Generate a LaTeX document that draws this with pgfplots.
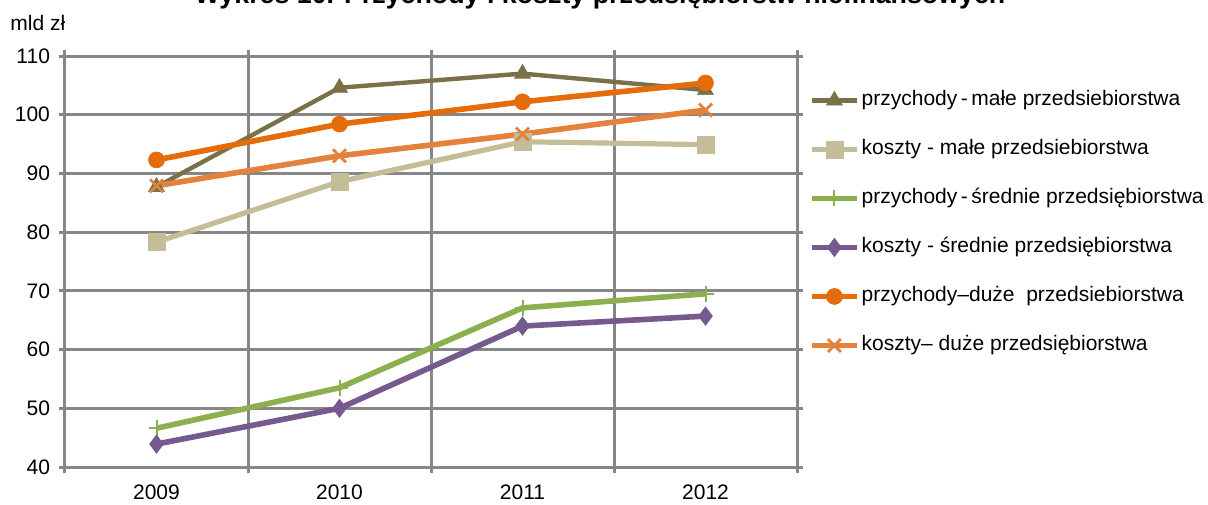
\documentclass[border=0pt]{standalone}
\usepackage{pgfplots}
\pgfplotsset{compat=1.18}
\usepackage{fontspec}
\setmainfont{Liberation Sans}

\definecolor{olive}{HTML}{7A7148}
\definecolor{tan}{HTML}{C4BD97}
\definecolor{sgreen}{HTML}{8CB04D}
\definecolor{spurple}{HTML}{76598F}
\definecolor{dorange}{HTML}{E46C0A}
\definecolor{lorange}{HTML}{E3823D}
\definecolor{gridgray}{HTML}{878787}
\definecolor{sblue}{HTML}{4F81BD}

\begin{document}
\begin{tikzpicture}
\begin{axis}[
    at={(0,0)}, anchor=south west,
    scale only axis,
    width=366pt, height=205.5pt,
    xmin=0.5, xmax=4.5,
    ymin=40, ymax=110,
    xtick={0.5,1.5,2.5,3.5,4.5},
    xticklabels={},
    extra x ticks={1,2,3,4},
    extra x tick labels={2009,2010,2011,2012},
    extra x tick style={grid=none, major tick length=0pt},
    ytick={40,50,...,110},
    grid=major,
    grid style={line width=1.5pt, gridgray},
    axis line style={line width=1.5pt, gridgray},
    tick style={line width=1.5pt, gridgray},
    tick align=outside,
    major tick length=3pt,
    font=\fontsize{10.5}{12}\selectfont,
    /pgf/number format/assume math mode=true,
    xticklabel style={yshift=-5.5pt},
    yticklabel style={xshift=-1pt},
    legend style={draw=none, fill=none, inner sep=0pt,
        at={(1.016,0.922)}, anchor=north west,
        font=\fontsize{10.5}{12}\selectfont,
        nodes={text height=7.5pt, text depth=2.5pt, inner sep=1pt, anchor=west},
        row sep=12.5pt, column sep=0pt},
    legend cell align=left,
    legend image code/.code={\draw[mark repeat=2,mark phase=2,#1] plot coordinates {(0pt,0pt) (11.25pt,0pt) (22.5pt,0pt)};},
]
\addplot[sblue, only marks, mark=triangle*, mark size=4pt, forget plot] coordinates {(1,87.6)};
\addplot[olive, line width=2.2pt, mark=triangle*, mark size=4.6pt, mark options={line width=0.3pt}] coordinates {
    (1,87.7) (2,104.6) (3,107.0) (4,104.2)};
\addlegendentry{przychody\,-\,małe przedsiebiorstwa}
\addplot[tan, line width=2.6pt, mark=square*, mark size=4.2pt, mark options={line width=0.3pt}] coordinates {
    (1,78.3) (2,88.6) (3,95.4) (4,94.9)};
\addlegendentry{koszty - małe przedsiebiorstwa}
\addplot[sgreen, line width=2.8pt, mark=+, mark size=4pt, mark options={line width=1pt}] coordinates {
    (1,46.6) (2,53.5) (3,67.1) (4,69.5)};
\addlegendentry{przychody\,-\,średnie przedsiębiorstwa}
\addplot[spurple, line width=2.8pt, mark=diamond*, mark size=4.6pt, mark options={line width=0.3pt}] coordinates {
    (1,43.9) (2,50.0) (3,64.0) (4,65.7)};
\addlegendentry{koszty - średnie przedsiębiorstwa}
\addplot[dorange, line width=2.8pt, mark=*, mark size=4pt, mark options={line width=0.3pt}] coordinates {
    (1,92.3) (2,98.4) (3,102.2) (4,105.4)};
\addlegendentry{przychody–duże \ przedsiebiorstwa}
\addplot[lorange, line width=2.8pt, mark=x, mark size=4.6pt, mark options={line width=1.4pt}] coordinates {
    (1,87.9) (2,93.0) (3,96.7) (4,100.8)};
\addlegendentry{koszty– duże przedsiębiorstwa}
\end{axis}
\node[anchor=west, inner sep=0pt, font=\fontsize{10.5}{12}\selectfont] at (-27.5pt,222pt) {mld zł};
\node[anchor=base, font=\bfseries\fontsize{13.4}{15}\selectfont] at (267.5pt,231.5pt)
    {Wykres 10. Przychody i koszty przedsiębiorstw niefinansowych};
\pgfresetboundingbox
\path[use as bounding box] (-32.5pt,-18.5pt) rectangle (571.5pt,233.5pt);
\end{tikzpicture}
\end{document}
